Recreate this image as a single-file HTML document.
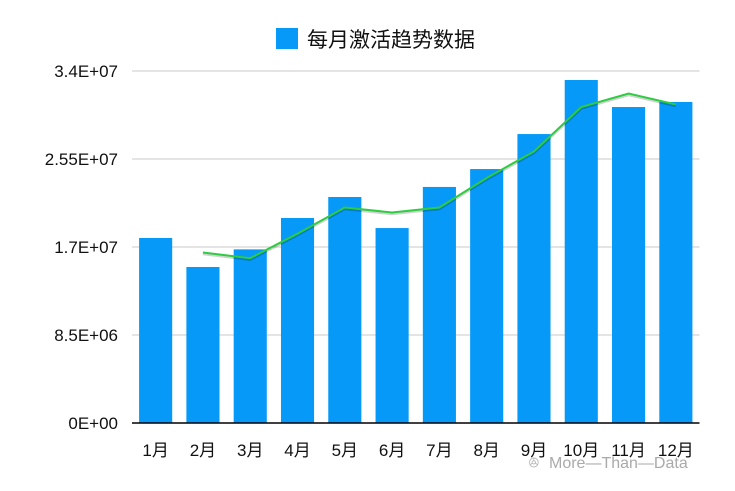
<!DOCTYPE html>
<html><head><meta charset="utf-8"><style>
html,body{margin:0;padding:0;background:#fff;}
svg{display:block;font-family:"Liberation Sans","Noto Sans CJK SC",sans-serif;}
</style></head><body>
<svg id="chart" width="735" height="491" viewBox="0 0 735 491">
<g id="legend">
<rect x="276" y="28" width="22" height="21" fill="#0699F7"/>
<text x="307" y="47" font-size="21" fill="#111">每月激活趋势数据</text>
</g>
<g id="grid"></g>
<g id="bars"></g>
<g id="trend"></g>
<g id="xlabels"></g>
<g id="watermark">
<text x="528" y="468" font-size="15" fill="#bbb">ꔮ</text>
<text x="549" y="468" font-size="16" fill="#aaa">More—Than—Data</text>
</g>
</svg>
<script>
const categories=["1月","2月","3月","4月","5月","6月","7月","8月","9月","10月","11月","12月"];
const values=[17.87e6,15.07e6,16.77e6,19.8e6,21.83e6,18.83e6,22.8e6,24.53e6,27.91e6,33.13e6,30.52e6,31.01e6];
const yTicks=[0,8.5e6,1.7e7,2.55e7,3.4e7];
const yTickLabels=["0E+00","8.5E+06","1.7E+07","2.55E+07","3.4E+07"];
const NS="http://www.w3.org/2000/svg";
const x0=132,x1=699.5,yTop=71,yBot=423,yMax=3.4e7;
const band=(x1-x0)/categories.length;
const xc=i=>x0+band*(i+0.5);
const y=v=>yBot-(v/yMax)*(yBot-yTop);
function mk(tag,attrs,parent){const e=document.createElementNS(NS,tag);for(const k in attrs)e.setAttribute(k,attrs[k]);parent.appendChild(e);return e;}
const grid=document.getElementById('grid');
yTicks.forEach((t,i)=>{
  if(t>0){const l=mk('line',{x1:x0,x2:x1,y1:y(t),y2:y(t),stroke:'#c8c8c8','stroke-width':1},grid);
  
  }
  const tx=mk('text',{x:118,y:y(t)+6,'text-anchor':'end','font-size':17,fill:'#111'},grid);
  tx.textContent=yTickLabels[i];
  
  
});
const bars=document.getElementById('bars');
const bw=band*0.7;
values.forEach((v,i)=>{
  const r=mk('rect',{x:xc(i)-bw/2,y:y(v),width:bw,height:yBot-y(v),fill:'#0699F7'},bars);
  
  
});
const axis=mk('line',{x1:x0,x2:x1,y1:yBot,y2:yBot,stroke:'#000','stroke-width':1.5},bars);


// 2-period moving average trendline
const pts=[];
for(let i=1;i<values.length;i++)pts.push([xc(i),y((values[i]+values[i-1])/2)]);
const d=pts.map((p,i)=>(i?'L':'M')+p[0].toFixed(1)+','+p[1].toFixed(1)).join(' ');
const tr=document.getElementById('trend');
const sh=mk('path',{d:d,fill:'none',stroke:'rgba(0,0,0,0.18)','stroke-width':2.5,transform:'translate(0,1.5)'},tr);


const tl=mk('path',{d:d,fill:'none',stroke:'#2ECC40','stroke-width':2},tr);


const xl=document.getElementById('xlabels');
categories.forEach((c,i)=>{
  const t=mk('text',{x:xc(i),y:456,'text-anchor':'middle','font-size':17,fill:'#111'},xl);
  t.textContent=c;
  
  
});
</script>
</body></html>
